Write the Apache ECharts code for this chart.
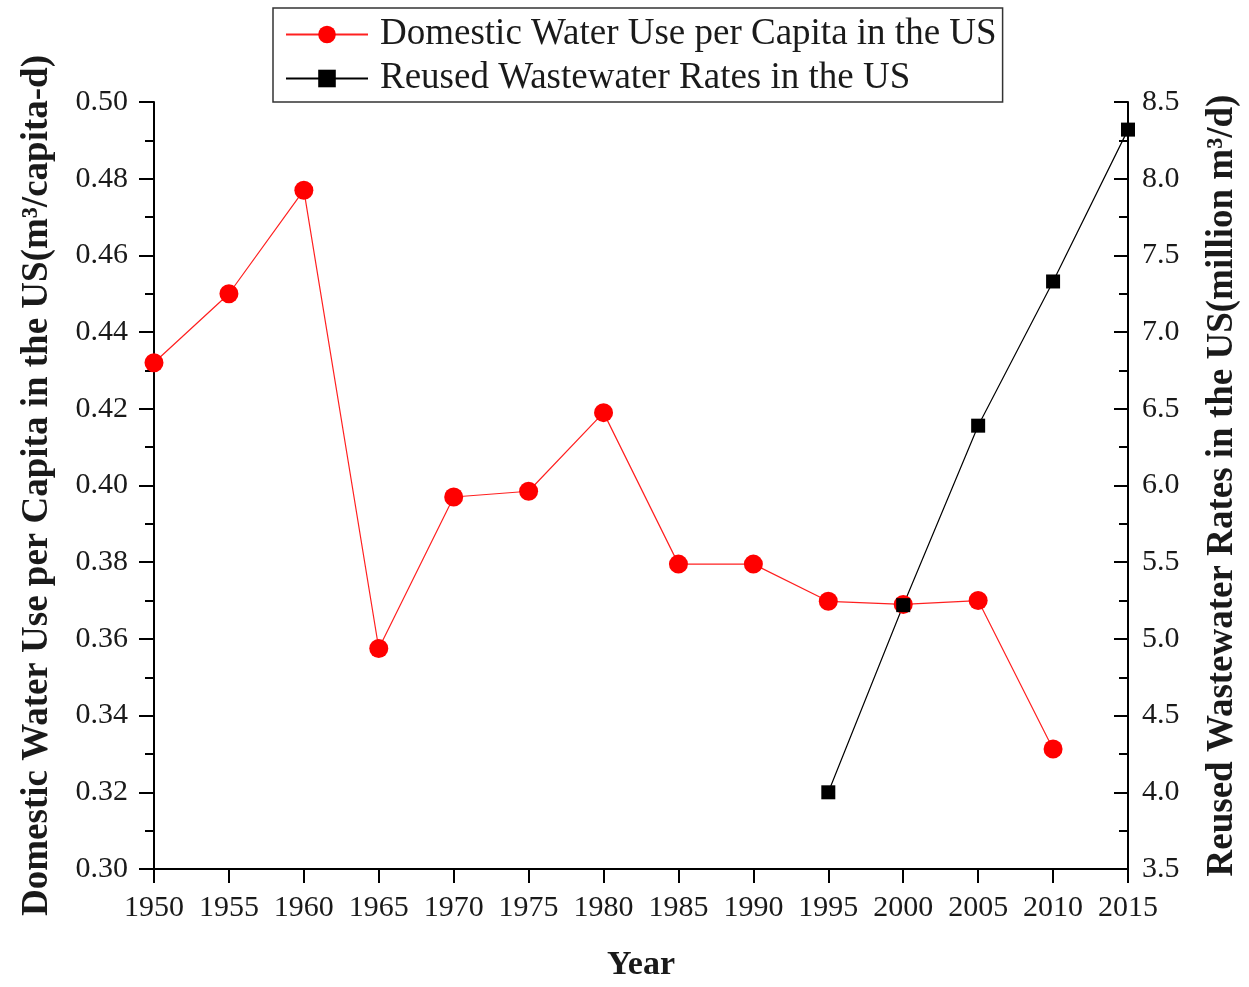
<!DOCTYPE html>
<html>
<head>
<meta charset="utf-8">
<script src="https://cdn.jsdelivr.net/npm/echarts@6/dist/echarts.min.js"></script>
<style>html,body{margin:0;padding:0;background:#fff;}#c{width:1249px;height:987px;}</style>
</head>
<body>
<div id="c"></div>
<script>
const years = [1950,1955,1960,1965,1970,1975,1980,1985,1990,1995,2000,2005,2010];
const domesticUse = [0.432,0.450,0.477,0.3575,0.397,0.3985,0.419,0.3795,0.3795,0.3698,0.369,0.370,0.3313];
const reuseYears = [1995,2000,2005,2010,2015];
const reuseRates = [4.0,5.22,6.39,7.33,8.32];
const xTicks = {min:1950,max:2015,interval:5};
const leftTicks = {min:0.30,max:0.50,interval:0.02};
const rightTicks = {min:3.5,max:8.5,interval:0.5};

const font = '"Liberation Serif","Times New Roman",serif';
const chart = echarts.init(document.getElementById('c'));
const lineStyleAxis = {color:'#000',width:2};
chart.setOption({
  backgroundColor:'#fff',
  animation:false,
  textStyle:{fontFamily:font},
  legend:{
    orient:'vertical', left:273, top:8,
    padding:[8,6,5,12], itemGap:7,
    borderColor:'#333', borderWidth:1.5,
    itemWidth:82, itemHeight:22,
    textStyle:{fontFamily:font,fontSize:37,lineHeight:36,color:'#1a1a1a',padding:[0,0,0,7]},
    data:['Domestic Water Use per Capita in the US','Reused Wastewater Rates in the US']
  },
  grid:{left:154,right:118,top:102,bottom:115,containLabel:false},
  xAxis:{
    type:'value', min:xTicks.min, max:xTicks.max, interval:xTicks.interval,
    axisLine:{show:true,lineStyle:lineStyleAxis},
    axisTick:{show:true,inside:false,length:14,lineStyle:lineStyleAxis},
    splitLine:{show:false},
    axisLabel:{fontFamily:font,fontSize:30,color:'#1a1a1a',margin:24,formatter:v=>String(v)},
    name:'Year', nameLocation:'middle', nameGap:79,
    nameTextStyle:{fontFamily:font,fontSize:34,fontWeight:'bold',color:'#1a1a1a'}
  },
  yAxis:[{
    type:'value', position:'left', min:leftTicks.min, max:leftTicks.max, interval:leftTicks.interval,
    axisLine:{show:true,lineStyle:lineStyleAxis},
    axisTick:{show:true,inside:false,length:15,lineStyle:lineStyleAxis},
    minorTick:{show:true,splitNumber:2,length:9,lineStyle:lineStyleAxis},
    splitLine:{show:false},
    axisLabel:{fontFamily:font,fontSize:30,color:'#1a1a1a',margin:26,formatter:v=>v.toFixed(2)},
    name:'Domestic Water Use per Capita in the US(m³/capita-d)', nameLocation:'middle', nameRotate:90, nameGap:98,
    nameTextStyle:{fontFamily:font,fontSize:37,fontWeight:'bold',color:'#1a1a1a'}
  },{
    type:'value', position:'right', min:rightTicks.min, max:rightTicks.max, interval:rightTicks.interval,
    axisLine:{show:true,lineStyle:lineStyleAxis},
    axisTick:{show:true,inside:true,length:14,lineStyle:lineStyleAxis},
    minorTick:{show:true,splitNumber:2,length:9,lineStyle:lineStyleAxis},
    splitLine:{show:false},
    axisLabel:{fontFamily:font,fontSize:30,color:'#1a1a1a',margin:14,formatter:v=>v.toFixed(1)},
    name:'Reused Wastewater Rates in the US(million m³/d)', nameLocation:'middle', nameRotate:90, nameGap:76,
    nameTextStyle:{fontFamily:font,fontSize:37,fontWeight:'bold',color:'#1a1a1a'}
  }],
  series:[{
    name:'Domestic Water Use per Capita in the US', type:'line', yAxisIndex:0,
    data:years.map((y,i)=>[y,domesticUse[i]]),
    symbol:'circle', symbolSize:19,
    itemStyle:{color:'#ff0000'}, lineStyle:{color:'#ff2020',width:1.2}
  },{
    name:'Reused Wastewater Rates in the US', type:'line', yAxisIndex:1,
    data:reuseYears.map((y,i)=>[y,reuseRates[i]]),
    symbol:'rect', symbolSize:14,
    itemStyle:{color:'#000'}, lineStyle:{color:'#000',width:1.2}
  }]
});
</script>
</body>
</html>
